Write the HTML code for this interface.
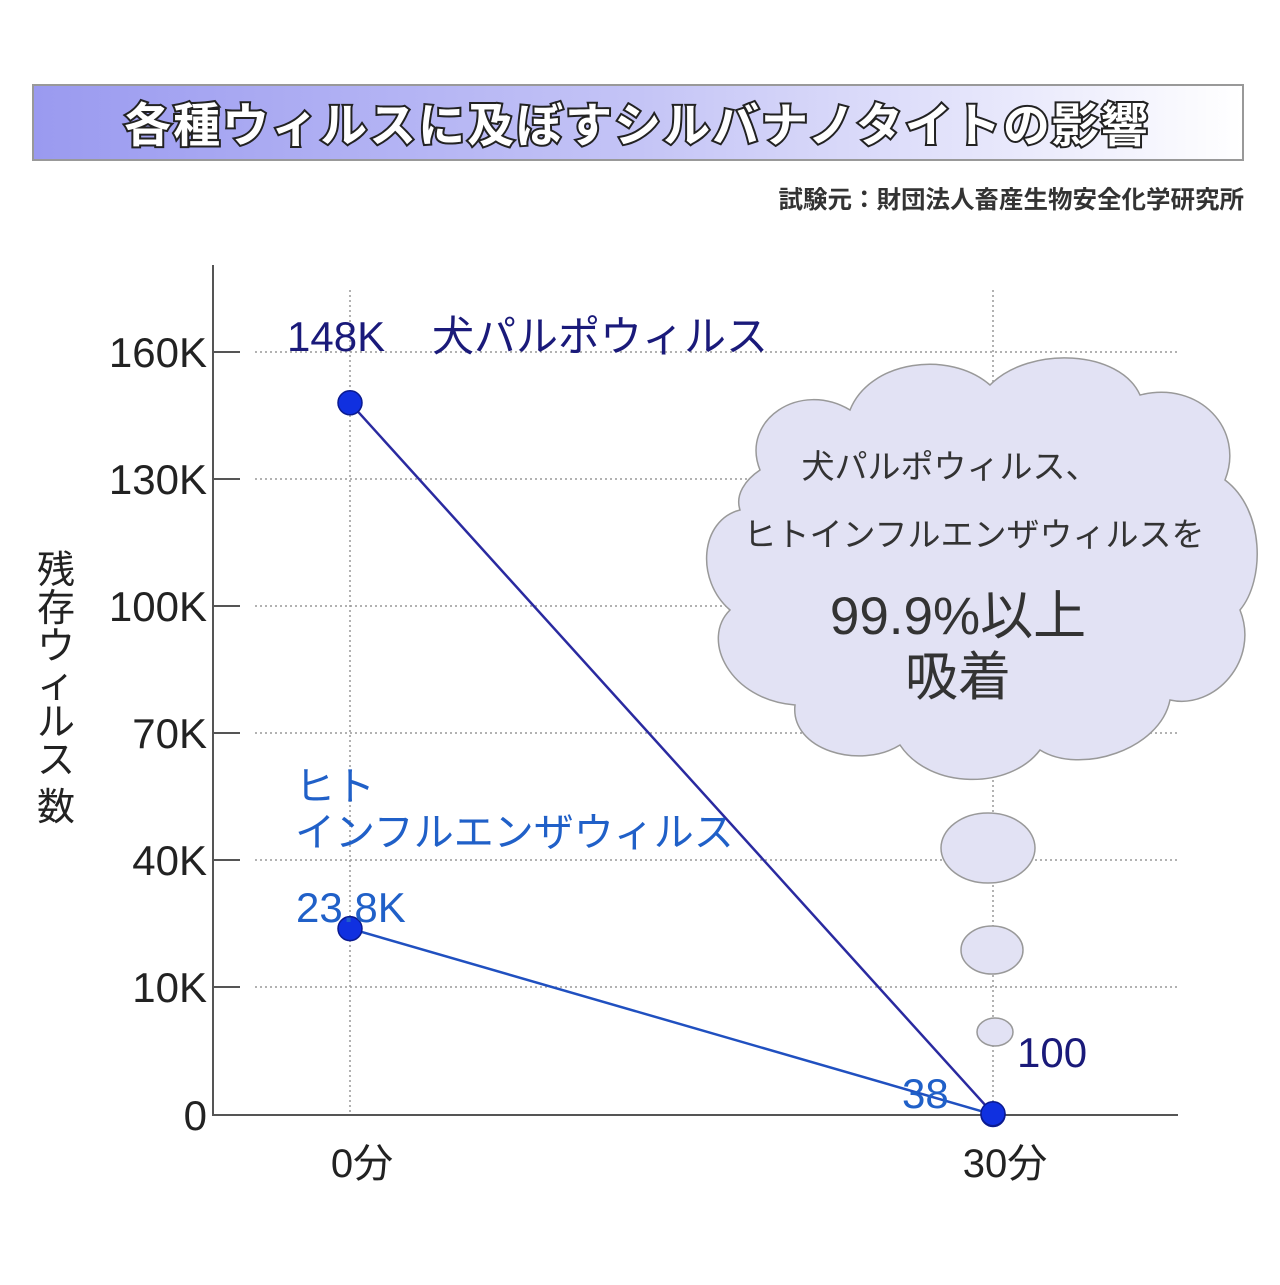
<!DOCTYPE html>
<html><head><meta charset="utf-8">
<style>
html,body{margin:0;padding:0;background:#fff;}
svg text{font-family:"Liberation Sans","Noto Sans CJK JP",sans-serif;}
</style></head>
<body>
<svg id="chart" width="1280" height="1280" viewBox="0 0 1280 1280" xmlns="http://www.w3.org/2000/svg">
<defs>
<linearGradient id="tg" x1="0" x2="1" y1="0" y2="0">
<stop offset="0" stop-color="#9a9af0"/><stop offset="0.5" stop-color="#c4c4f6"/><stop offset="1" stop-color="#ffffff"/>
</linearGradient>
</defs>
<g>
<rect x="33" y="85" width="1210" height="75" fill="url(#tg)" stroke="#999" stroke-width="2"/>
<text x="637" y="142" text-anchor="middle" font-size="47" letter-spacing="2" fill="#fff" stroke="#222" stroke-width="4" paint-order="stroke" font-weight="bold">各種ウィルスに及ぼすシルバナノタイトの影響</text>
</g>
<text x="1244" y="208" text-anchor="end" font-size="24.5" font-weight="bold" fill="#333">試験元：財団法人畜産生物安全化学研究所</text>

<g id="grid"></g>
<g id="axes"></g>

<g fill="#e2e2f4" stroke="#999" stroke-width="1.5">
<path d="M760,470 C740,420 800,380 850,410 C870,360 950,350 990,385 C1030,345 1120,350 1140,395 C1200,380 1245,430 1225,480 C1265,510 1265,580 1240,610 C1260,660 1215,710 1170,700 C1160,750 1080,775 1040,750 C1010,790 930,790 900,745 C860,770 790,750 795,705 C730,700 700,640 730,610 C695,580 700,520 740,510 C735,495 745,480 760,470 Z"/>
<ellipse cx="988" cy="848" rx="47" ry="35"/>
<ellipse cx="992" cy="950" rx="31" ry="24"/>
<ellipse cx="995" cy="1032" rx="18" ry="14"/>
</g>
<g fill="#333" text-anchor="middle">
<text x="950" y="478" font-size="33">犬パルポウィルス、</text>
<text x="974" y="546" font-size="33">ヒトインフルエンザウィルスを</text>
<text x="958" y="634" font-size="53">99.9%以上</text>
<text x="958" y="695" font-size="53">吸着</text>
</g>

<g id="series"></g>

<text font-size="38" fill="#222" text-anchor="middle">
<tspan x="56" y="583">残</tspan><tspan x="56" y="621">存</tspan><tspan x="56" y="659">ウ</tspan><tspan x="56" y="697">ィ</tspan><tspan x="56" y="735">ル</tspan><tspan x="56" y="773">ス</tspan><tspan x="56" y="820">数</tspan>
</text>
</svg>
<script>
const categories = ["0分", "30分"];
const tickValues = [0, 10000, 40000, 70000, 100000, 130000, 160000];
const tickLabels = ["0", "10K", "40K", "70K", "100K", "130K", "160K"];
const caninePV = [148000, 100];
const humanFlu = [23800, 38];
const canineLabels = ["148K", "100"];
const humanLabels = ["23.8K", "38"];

const NS = "http://www.w3.org/2000/svg";
const tickY = [1115, 987, 860, 733, 606, 479, 352];
function yScale(v){
  for(let i=0;i<tickValues.length-1;i++){
    if(v<=tickValues[i+1]){
      const t=(v-tickValues[i])/(tickValues[i+1]-tickValues[i]);
      return tickY[i]+t*(tickY[i+1]-tickY[i]);
    }
  }
  return tickY[tickY.length-1];
}
function xScale(i){ return 350 + i*643; }
function mk(tag, attrs, parent){
  const e=document.createElementNS(NS,tag);
  for(const k in attrs) e.setAttribute(k,attrs[k]);
  parent.appendChild(e); return e;
}
const grid=document.getElementById('grid'), axes=document.getElementById('axes'), series=document.getElementById('series');
tickValues.forEach((v,i)=>{
  const y=yScale(v);
  if(i>0){
    const g=mk('line',{x1:255,x2:1178,y1:y,y2:y,stroke:'#999','stroke-width':1.5,'stroke-dasharray':'2,3'},grid);
    
    
  }
  const t=mk('line',{x1:213,x2:240,y1:y,y2:y,stroke:'#555','stroke-width':2},axes);
  
  
  const l=mk('text',{x:207,y:y+15,'text-anchor':'end','font-size':42,fill:'#222'},axes);
  l.textContent=tickLabels[i];
  
  
});
categories.forEach((c,i)=>{
  const x=xScale(i);
  const g=mk('line',{x1:x,x2:x,y1:290,y2:1115,stroke:'#999','stroke-width':1.5,'stroke-dasharray':'2,3'},grid);
  
  
  const l=mk('text',{x:x+12,y:1177,'text-anchor':'middle','font-size':40,fill:'#222'},axes);
  l.textContent=c;
  
  
});
const ya=mk('line',{x1:213,x2:213,y1:265,y2:1116,stroke:'#555','stroke-width':2},axes);


const xa=mk('line',{x1:212,x2:1178,y1:1115,y2:1115,stroke:'#555','stroke-width':2},axes);



function drawSeries(vals,color,name){
  const pts=vals.map((v,i)=>xScale(i)+','+yScale(v)).join(' ');
  const pl=mk('polyline',{points:pts,fill:'none',stroke:color,'stroke-width':2.5},series);
  
  
  vals.forEach((v,i)=>{
    const c=mk('circle',{cx:xScale(i),cy:yScale(v),r:12,fill:'#1030e0',stroke:'#0a1a90','stroke-width':1.5},series);
    
    
  });
}
drawSeries(humanFlu,'#2050c0','human-flu');
drawSeries(caninePV,'#2a2aa0','canine-parvo');

function lbl(txt,x,y,color,size,name){
  const t=mk('text',{x:x,y:y,'font-size':size,fill:color},series);
  t.textContent=txt;
  
  
}
lbl(canineLabels[0],287,351,'#1a1a7a',42,'canine-start-label');
lbl('犬パルポウィルス',432,351,'#1a1a7a',42,'canine-parvo-label');
lbl(canineLabels[1],1017,1067,'#1a1a7a',42,'canine-end-label');
lbl('ヒト',295,800,'#2060c8',40,'human-flu-label-1');
lbl('インフルエンザウィルス',295,846,'#2060c8',40,'human-flu-label-2');
lbl(humanLabels[0],296,922,'#2060c8',42,'human-start-label');
lbl(humanLabels[1],902,1108,'#2060c8',42,'human-end-label');
</script>
</body></html>
